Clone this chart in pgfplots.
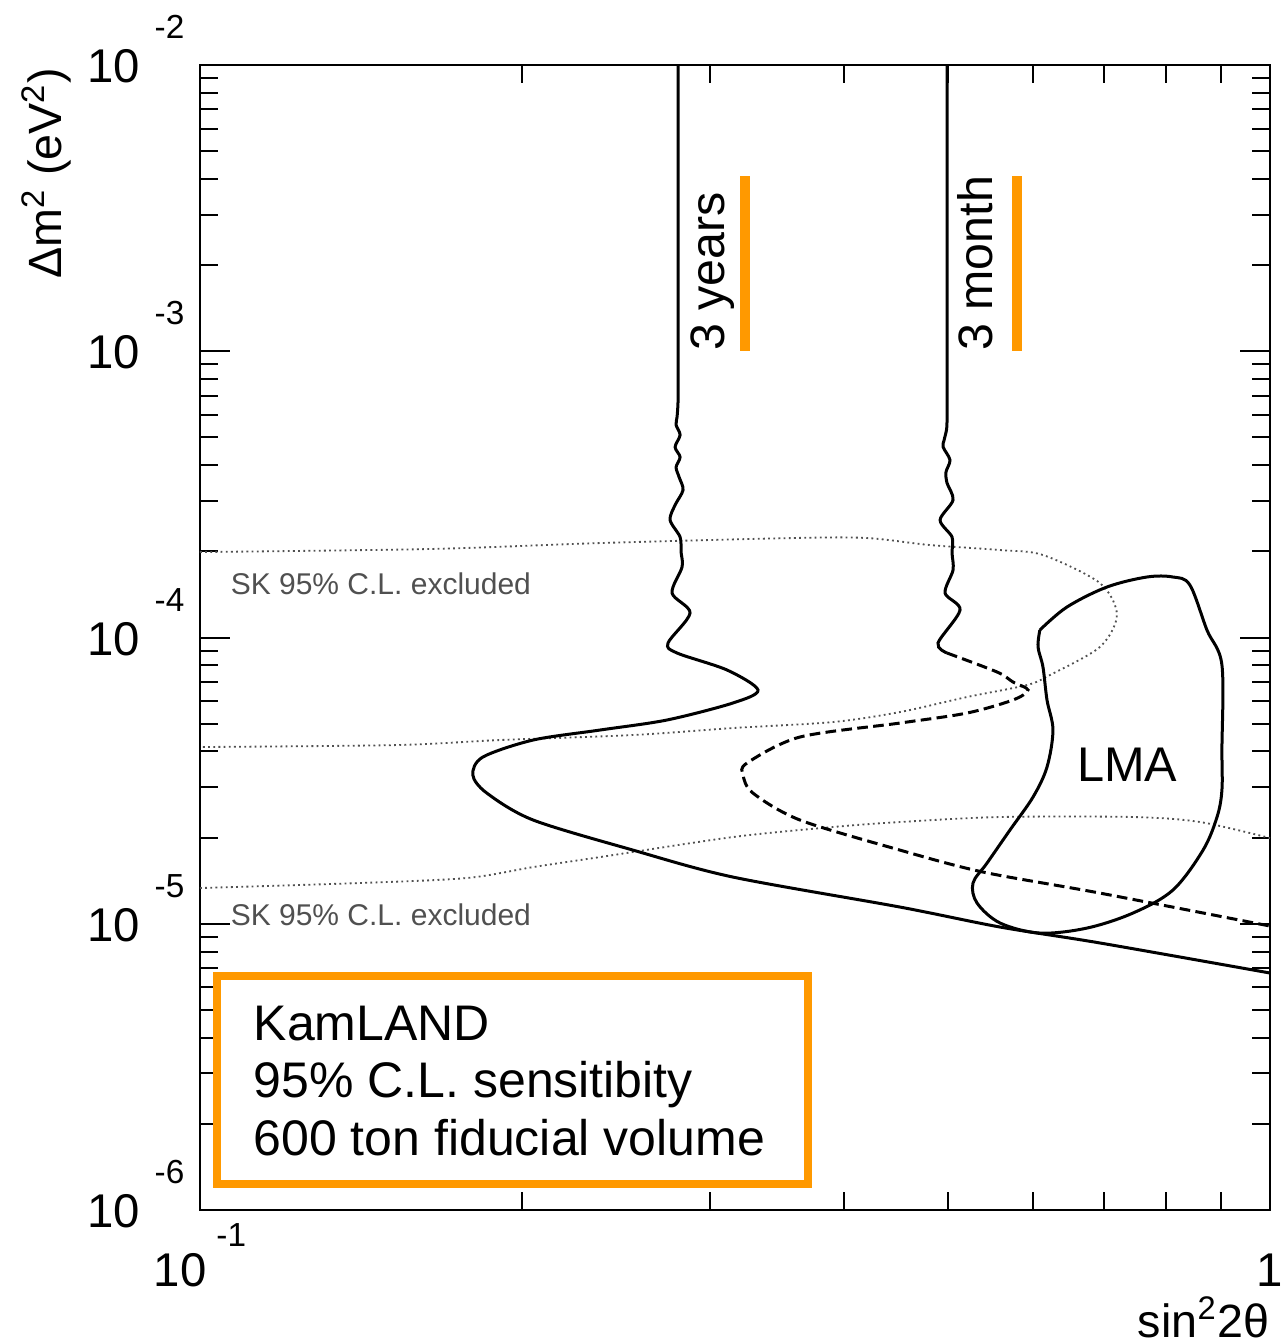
\documentclass[border=0pt]{standalone}
\usepackage{pgfplots}
\pgfplotsset{compat=1.18}
\usepackage{fontspec}
\setmainfont{Liberation Sans}
\definecolor{kamorange}{RGB}{255,153,0}
\definecolor{skgray}{RGB}{80,80,80}
% raised exponent in the ROOT style tick labels
\newcommand{\yexp}[1]{10\hspace{4.5pt}\smash{\raisebox{13.2pt}{\fontsize{10}{10}\selectfont #1}}}
\newcommand{\xexp}[1]{10\hspace{3pt}\raisebox{12pt}{\fontsize{10}{10}\selectfont #1}}

\begin{document}
\begin{tikzpicture}
\begin{axis}[
  name=main,
  xmode=log, ymode=log,
  scale only axis, width=321pt, height=343.5pt,
  xmin=0.1, xmax=1, ymin=1e-6, ymax=1e-2,
  xtick={0.1,1},
  xticklabels={{\xexp{-1}},{1}},
  ytick={1e-6,1e-5,1e-4,1e-3,1e-2},
  yticklabels={{\yexp{-6}},{\yexp{-5}},{\yexp{-4}},{\yexp{-3}},{\yexp{-2}}},
  minor xtick={0.2,0.3,0.4,0.5,0.6,0.7,0.8,0.9},
  minor ytick={2e-6,3e-6,4e-6,5e-6,6e-6,7e-6,8e-6,9e-6,
               2e-5,3e-5,4e-5,5e-5,6e-5,7e-5,8e-5,9e-5,
               2e-4,3e-4,4e-4,5e-4,6e-4,7e-4,8e-4,9e-4,
               2e-3,3e-3,4e-3,5e-3,6e-3,7e-3,8e-3,9e-3},
  tick align=inside,
  major tick length=9pt, minor tick length=5.5pt,
  axis line style={line width=0.6pt},
  every tick/.style={black, line width=0.6pt},
  tick label style={font=\fontsize{14.2}{15}\selectfont, inner sep=0pt},
  yticklabel style={anchor=base east, xshift=-4.5pt, yshift=-5.3pt},
  xticklabel style={anchor=base, yshift=-23pt},
  clip=false,
]

% SK 95% C.L. excluded region, upper band boundary
\addplot[skgray, densely dotted, line width=0.55pt, smooth] coordinates {
  (0.1,1.989e-4) (0.1641,2.038e-4) (0.2365,2.138e-4) (0.3583,2.226e-4)
  (0.4201,2.226e-4) (0.4811,2.104e-4) (0.5595,2.021e-4) (0.6136,1.942e-4)
  (0.6935,1.550e-4) (0.7194,1.199e-4) (0.6935,9.265e-5) (0.6229,7.396e-5)
  (0.5929,6.825e-5) (0.5210,6.197e-5) (0.4510,5.491e-5) (0.3905,5.067e-5)
  (0.3149,4.828e-5) (0.2539,4.564e-5) (0.1907,4.384e-5) (0.1528,4.211e-5)
  (0.1,4.144e-5)
};
% SK 95% C.L. excluded region, lower boundary
\addplot[skgray, densely dotted, line width=0.55pt, smooth] coordinates {
  (0.1,1.333e-5) (0.1411,1.388e-5) (0.1776,1.445e-5) (0.2048,1.578e-5)
  (0.2365,1.710e-5) (0.3149,2.009e-5) (0.3905,2.178e-5) (0.4510,2.267e-5)
  (0.5595,2.360e-5) (0.7447,2.360e-5) (0.8602,2.267e-5) (1.0,1.993e-5)
};

% KamLAND sensitivity, 3 years
\addplot[black, line width=0.9pt, smooth, tension=0.5] coordinates {
  (0.2798,1.0e-2) (0.2798,3.0e-3) (0.2798,1.510e-3) (0.2798,9.0e-4)
  (0.2798,6.755e-4) (0.2792,5.900e-4) (0.2786,5.526e-4) (0.2810,5.098e-4)
  (0.2780,4.628e-4) (0.2810,4.271e-4) (0.2786,3.938e-4) (0.2804,3.636e-4)
  (0.2828,3.276e-4) (0.2780,2.903e-4) (0.2750,2.573e-4) (0.2810,2.244e-4)
  (0.2816,1.989e-4) (0.2822,1.763e-4) (0.2762,1.430e-4) (0.2871,1.218e-4)
  (0.2738,9.568e-5) (0.2792,8.828e-5) (0.3109,7.701e-5) (0.3323,6.556e-5)
  (0.3149,5.906e-5) (0.2731,5.149e-5) (0.2365,4.751e-5) (0.2048,4.384e-5)
  (0.1838,3.823e-5) (0.1799,3.308e-5) (0.1854,2.862e-5) (0.2048,2.304e-5)
  (0.2539,1.809e-5) (0.3149,1.456e-5) (0.4510,1.144e-5) (0.5595,9.74e-6)
  (0.6935,8.57e-6) (1.0,6.73e-6)
};

% KamLAND sensitivity, 3 month: upper solid part
\addplot[black, line width=0.9pt, smooth, tension=0.5] coordinates {
  (0.4991,1.0e-2) (0.4991,3.0e-3) (0.4991,1.510e-3) (0.4991,7.936e-4)
  (0.4991,5.751e-4) (0.4985,5.308e-4) (0.4960,4.898e-4) (0.4949,4.628e-4)
  (0.5023,4.169e-4) (0.4980,3.785e-4) (0.4991,3.465e-4) (0.5056,3.022e-4)
  (0.4917,2.573e-4) (0.5045,2.244e-4) (0.5045,1.973e-4) (0.5056,1.721e-4)
  (0.4970,1.430e-4) (0.5133,1.248e-4) (0.4895,9.568e-5) (0.4991,8.828e-5)
};
% KamLAND sensitivity, 3 month: lower dashed part
\addplot[black, line width=0.9pt, smooth, tension=0.5, dash pattern=on 3.2pt off 1.6pt] coordinates {
  (0.4991,8.828e-5) (0.5559,7.578e-5) (0.5752,6.991e-5) (0.5941,6.556e-5)
  (0.5752,6.050e-5) (0.5210,5.447e-5) (0.4510,5.026e-5) (0.3637,4.491e-5)
  (0.3245,3.643e-5) (0.3218,3.308e-5) (0.3287,2.862e-5) (0.3637,2.304e-5)
  (0.4510,1.809e-5) (0.5393,1.516e-5) (0.6935,1.280e-5) (1.0,9.82e-6)
};

% LMA solution contour
\addplot[black, line width=0.9pt, smooth, tension=0.55] coordinates {
  (0.6095,1.062e-4) (0.6071,9.265e-5) (0.6136,7.888e-5) (0.6189,6.050e-5)
  (0.6269,4.751e-5) (0.6189,3.528e-5) (0.6006,2.772e-5) (0.5715,2.126e-5)
  (0.5440,1.630e-5) (0.5278,1.388e-5) (0.5324,1.182e-5) (0.5595,1.006e-5)
  (0.6095,9.28e-6) (0.6745,9.66e-6) (0.7447,1.090e-5) (0.8116,1.312e-5)
  (0.8659,1.809e-5) (0.8923,2.360e-5) (0.9018,2.932e-5) (0.9018,4.045e-5)
  (0.9018,8.016e-5) (0.8732,1.062e-4) (0.8417,1.526e-4) (0.8116,1.627e-4)
  (0.7674,1.627e-4) (0.7041,1.501e-4) (0.6461,1.278e-4) (0.6095,1.062e-4)
};

% orange markers beside the curve labels
\addplot[kamorange, line width=3pt] coordinates {(0.3231,4.095e-3) (0.3231,1.0e-3)};
\addplot[kamorange, line width=3pt] coordinates {(0.5803,4.095e-3) (0.5803,1.0e-3)};

\node[rotate=90, anchor=base west, inner sep=0pt, font=\fontsize{14.5}{16}\selectfont]
  at (axis cs:0.3089,1.0e-3) {3 years};
\node[rotate=90, anchor=base west, inner sep=0pt, font=\fontsize{14.5}{16}\selectfont]
  at (axis cs:0.5510,1.0e-3) {3 month};

\node[inner sep=0pt, font=\fontsize{14.6}{16}\selectfont] at (axis cs:0.7353,3.585e-5) {LMA};

\node[anchor=base west, inner sep=0pt, text=skgray, font=\fontsize{9}{10}\selectfont]
  at (axis cs:0.1067,1.408e-4) {SK 95\% C.L. excluded};
\node[anchor=base west, inner sep=0pt, text=skgray, font=\fontsize{9}{10}\selectfont]
  at (axis cs:0.1067,9.90e-6) {SK 95\% C.L. excluded};

% KamLAND info box
\draw[kamorange, line width=2.2pt] (axis cs:0.1037,6.57e-6) rectangle (axis cs:0.3700,1.233e-6);
\node[anchor=base west, inner sep=0pt, font=\fontsize{15}{17}\selectfont] at (axis cs:0.1121,3.926e-6) {KamLAND};
\node[anchor=base west, inner sep=0pt, font=\fontsize{15}{17}\selectfont] at (axis cs:0.1121,2.482e-6) {95\% C.L. sensitibity};
\node[anchor=base west, inner sep=0pt, font=\fontsize{15}{17}\selectfont] at (axis cs:0.1121,1.556e-6) {600 ton fiducial volume};

% axis titles
\node[rotate=90, anchor=base east, inner sep=0pt, font=\fontsize{14}{16}\selectfont]
  at (axis cs:0.07431,9.84e-3) {Δm\textsuperscript{2} (eV\textsuperscript{2})};
\node[anchor=base east, inner sep=0pt, font=\fontsize{14}{16}\selectfont]
  at (axis cs:1,3.60e-7) {sin\textsuperscript{2}2θ};
\end{axis}
\pgfresetboundingbox
\path ([xshift=-60pt,yshift=-40.2pt]main.south west) rectangle ([xshift=3.9pt,yshift=19.5pt]main.north east);
\end{tikzpicture}
\end{document}
